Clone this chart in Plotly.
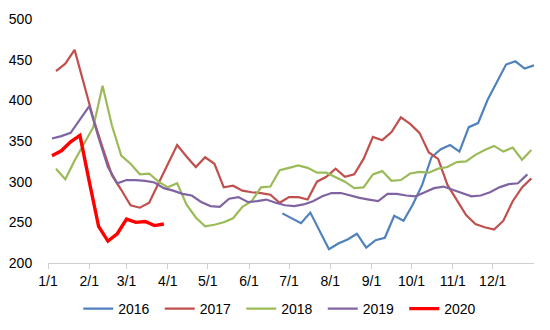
import pandas as pd
import plotly.graph_objects as go

# ---- data (weekly observations, plotted on a common reference year) ----
start_2016 = "2021-06-26"
v_2016 = [261, 255, 249, 262, 240, 217, 224, 229, 236, 219, 228, 231, 258, 252,
          272, 296, 330, 340, 345, 337, 367, 372, 400, 423, 444, 448, 439, 443]

start_2017 = "2021-01-07"
v_2017 = [436, 445, 462, 420, 378, 342, 308, 290, 271, 268, 274, 298, 322, 345,
          331, 318, 330, 322, 293, 295, 289, 287, 286, 284, 274, 281, 281, 278,
          300, 306, 316, 306, 309, 328, 355, 351, 361, 379, 371, 360, 336, 328,
          296, 277, 259, 248, 244, 241, 252, 276, 293, 304]

start_2018 = "2021-01-07"
v_2018 = [316, 303, 326, 347, 367, 418, 369, 332, 322, 309, 310, 300, 293, 298,
          272, 256, 245, 247, 250, 255, 269, 276, 293, 294, 314, 317, 320, 317,
          311, 311, 305, 300, 292, 293, 309, 313, 301, 302, 310, 312, 311, 316,
          318, 324, 325, 333, 339, 344, 337, 342, 327, 339]

start_2019 = "2021-01-04"
v_2019 = [353, 356, 360, 376, 393, 354, 318, 298, 302, 302, 301, 299, 292, 289,
          285, 283, 275, 270, 269, 279, 281, 275, 276, 278, 274, 271, 270, 272,
          276, 282, 286, 286, 283, 280, 278, 276, 285, 285, 283, 282, 287, 292,
          294, 290, 286, 282, 283, 287, 293, 297, 298, 309]

start_2020 = "2021-01-04"
v_2020 = [332, 338, 349, 357, 300, 245, 227, 236, 254, 250, 251, 246, 248]

series_names = ["2016", "2017", "2018", "2019", "2020"]
month_ticks = ["2021-%02d-01" % m for m in range(1, 13)]
month_labels = ["%d/1" % m for m in range(1, 13)]
y_ticks = [200, 250, 300, 350, 400, 450, 500]

colors = ["#4F81BD", "#C0504D", "#9BBB59", "#8064A2", "#FF0000"]
widths = [2.2, 2.2, 2.2, 2.2, 3.4]

starts = [start_2016, start_2017, start_2018, start_2019, start_2020]
values = [v_2016, v_2017, v_2018, v_2019, v_2020]

fig = go.Figure()
for name, st, vals, c, w in zip(series_names, starts, values, colors, widths):
    xs = pd.date_range(st, periods=len(vals), freq="7D")
    fig.add_trace(go.Scatter(x=xs, y=vals, mode="lines", name=name,
                             line=dict(color=c, width=w)))

font = "Liberation Sans, Arial, sans-serif"
fig.update_layout(
    width=550, height=330,
    margin=dict(l=48, r=16, t=19, b=67, autoexpand=False),
    paper_bgcolor="white", plot_bgcolor="white",
    font=dict(family=font, size=14, color="#000000"),
    showlegend=True,
    legend=dict(orientation="h", x=0.482, xanchor="center", y=-0.123, yanchor="top",
                font=dict(size=14), entrywidth=36.5, entrywidthmode="pixels",
                itemwidth=30, tracegroupgap=0),
    xaxis=dict(type="date", range=["2021-01-01", "2022-01-01"],
               tickmode="array", tickvals=month_ticks, ticktext=month_labels,
               showgrid=False, zeroline=False, showline=True,
               linecolor="#D0D0D0", linewidth=1,
               ticks="outside", ticklen=5, tickcolor="#D0D0D0",
               tickfont=dict(size=14)),
    yaxis=dict(range=[200, 500], tickmode="array", tickvals=y_ticks,
               showgrid=False, zeroline=False, showline=False,
               ticks="outside", ticklen=12, tickcolor="rgba(0,0,0,0)",
               tickfont=dict(size=14)),
)

fig.write_html("out.html")
